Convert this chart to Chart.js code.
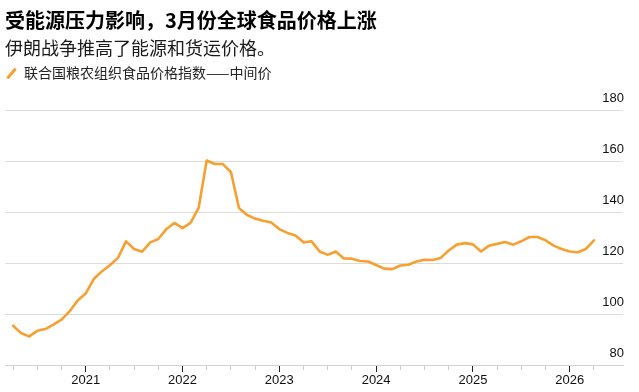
<!DOCTYPE html>
<html>
<head>
<meta charset="utf-8">
<script src="https://cdn.jsdelivr.net/npm/chart.js@4"></script>
<style>
  body { margin: 0; background: #fff; }
  #wrap { position: relative; width: 639px; height: 392px; overflow: hidden; font-family: "Noto Sans CJK SC", "Noto Sans", sans-serif; }
  #chart { position: absolute; left: 0; top: 0; }
  .title { position: absolute; left: 5px; top: 8px; font-size: 20px; line-height: 24px; font-weight: bold; color: #000; white-space: nowrap; }
  .subtitle { position: absolute; left: 5px; top: 36px; font-size: 18px; line-height: 22px; color: #1a1a1a; white-space: nowrap; }
  .legend { position: absolute; left: 24px; top: 63px; font-size: 14px; line-height: 18px; color: #222; white-space: nowrap; }
  .swatch { position: absolute; left: 5px; top: 72px; width: 13px; height: 3px; background: #F7A031; transform: rotate(-50deg); border-radius: 1px; }
</style>
</head>
<body>
<div id="wrap">
  <canvas id="chart" width="639" height="392"></canvas>
  <div class="title">受能源压力影响，3月份全球食品价格上涨</div>
  <div class="subtitle">伊朗战争推高了能源和货运价格。</div>
  <div class="swatch"></div>
  <div class="legend">联合国粮农组织食品价格指数——中间价</div>
</div>
<script>
// FAO food price index, monthly, Mar 2020 - Mar 2026
const months = [
  '2020-03','2020-04','2020-05','2020-06','2020-07','2020-08','2020-09','2020-10','2020-11','2020-12',
  '2021-01','2021-02','2021-03','2021-04','2021-05','2021-06','2021-07','2021-08','2021-09','2021-10','2021-11','2021-12',
  '2022-01','2022-02','2022-03','2022-04','2022-05','2022-06','2022-07','2022-08','2022-09','2022-10','2022-11','2022-12',
  '2023-01','2023-02','2023-03','2023-04','2023-05','2023-06','2023-07','2023-08','2023-09','2023-10','2023-11','2023-12',
  '2024-01','2024-02','2024-03','2024-04','2024-05','2024-06','2024-07','2024-08','2024-09','2024-10','2024-11','2024-12',
  '2025-01','2025-02','2025-03','2025-04','2025-05','2025-06','2025-07','2025-08','2025-09','2025-10','2025-11','2025-12',
  '2026-01','2026-02','2026-03'
];
const values = [
  95.4, 92.5, 91.2, 93.4, 94.1, 95.8, 97.8, 101.0, 105.3, 108.0,
  113.7, 116.7, 119.1, 122.0, 128.5, 125.5, 124.4, 128.1, 129.4, 133.3, 135.7, 133.7,
  135.7, 141.6, 160.2, 158.8, 158.8, 155.7, 141.6, 138.8, 137.4, 136.6, 135.9, 133.3,
  131.8, 130.8, 128.1, 128.5, 124.5, 123.2, 124.5, 121.8, 121.7, 120.8, 120.6, 119.2,
  117.8, 117.6, 119.0, 119.3, 120.6, 121.3, 121.2, 122.0, 124.9, 127.2, 127.8, 127.3,
  124.5, 126.8, 127.5, 128.2, 127.2, 128.5, 130.2, 130.2, 128.9, 126.8, 125.5, 124.5,
  124.2, 125.5, 128.9
];
const yTicks = [80, 100, 120, 140, 160, 180];
const startYear = 2020;

// month index on a linear axis: value plotted at the end of its month
const toX = m => (parseInt(m.slice(0, 4)) - startYear) * 12 + parseInt(m.slice(5, 7));
const points = months.map((m, i) => ({ x: toX(m), y: values[i] }));

const axisFont = { family: 'Liberation Sans, Arial, sans-serif', size: 13 };

new Chart(document.getElementById('chart').getContext('2d'), {
  type: 'line',
  data: {
    datasets: [{
      label: '联合国粮农组织食品价格指数——中间价',
      data: points,
      borderColor: '#F7A031',
      borderWidth: 2.6,
      borderJoinStyle: 'round',
      borderCapStyle: 'round',
      pointRadius: 0,
      tension: 0
    }]
  },
  options: {
    responsive: false,
    animation: false,
    devicePixelRatio: 1,
    layout: { padding: { left: 5, right: 16, top: 110, bottom: 0 } },
    plugins: { legend: { display: false }, tooltip: { enabled: false } },
    scales: {
      x: {
        type: 'linear',
        min: 2,
        max: 78.6,
        afterFit: s => { s.height = 27; },
        afterBuildTicks: s => { s.ticks = s.ticks.filter(t => t.value <= 75); },
        border: { display: true, color: '#cfcfcf', width: 1 },
        grid: {
          drawOnChartArea: false,
          tickLength: 7,
          tickWidth: 1,
          tickColor: c => (c.tick && c.tick.value % 12 === 0) ? '#222' : '#cfcfcf',
          tickBorderDash: c => (c.tick && c.tick.value % 12 === 0) ? [] : [4, 20]
        },
        ticks: {
          stepSize: 3,
          includeBounds: false,
          autoSkip: false,
          maxRotation: 0,
          padding: 1,
          color: '#111',
          font: axisFont,
          callback: v => v % 12 === 0 ? String(startYear + v / 12) : ''
        }
      },
      y: {
        position: 'right',
        min: yTicks[0],
        max: yTicks[yTicks.length - 1],
        afterFit: s => { s.width = 0; },
        afterBuildTicks: s => { s.ticks = yTicks.map(v => ({ value: v })); },
        border: { display: false },
        grid: { color: '#dcdcdc', lineWidth: 1, drawTicks: false },
        ticks: {
          mirror: true,
          padding: 1,
          labelOffset: -12,
          color: '#111',
          font: axisFont
        }
      }
    }
  }
});
</script>
</body>
</html>
